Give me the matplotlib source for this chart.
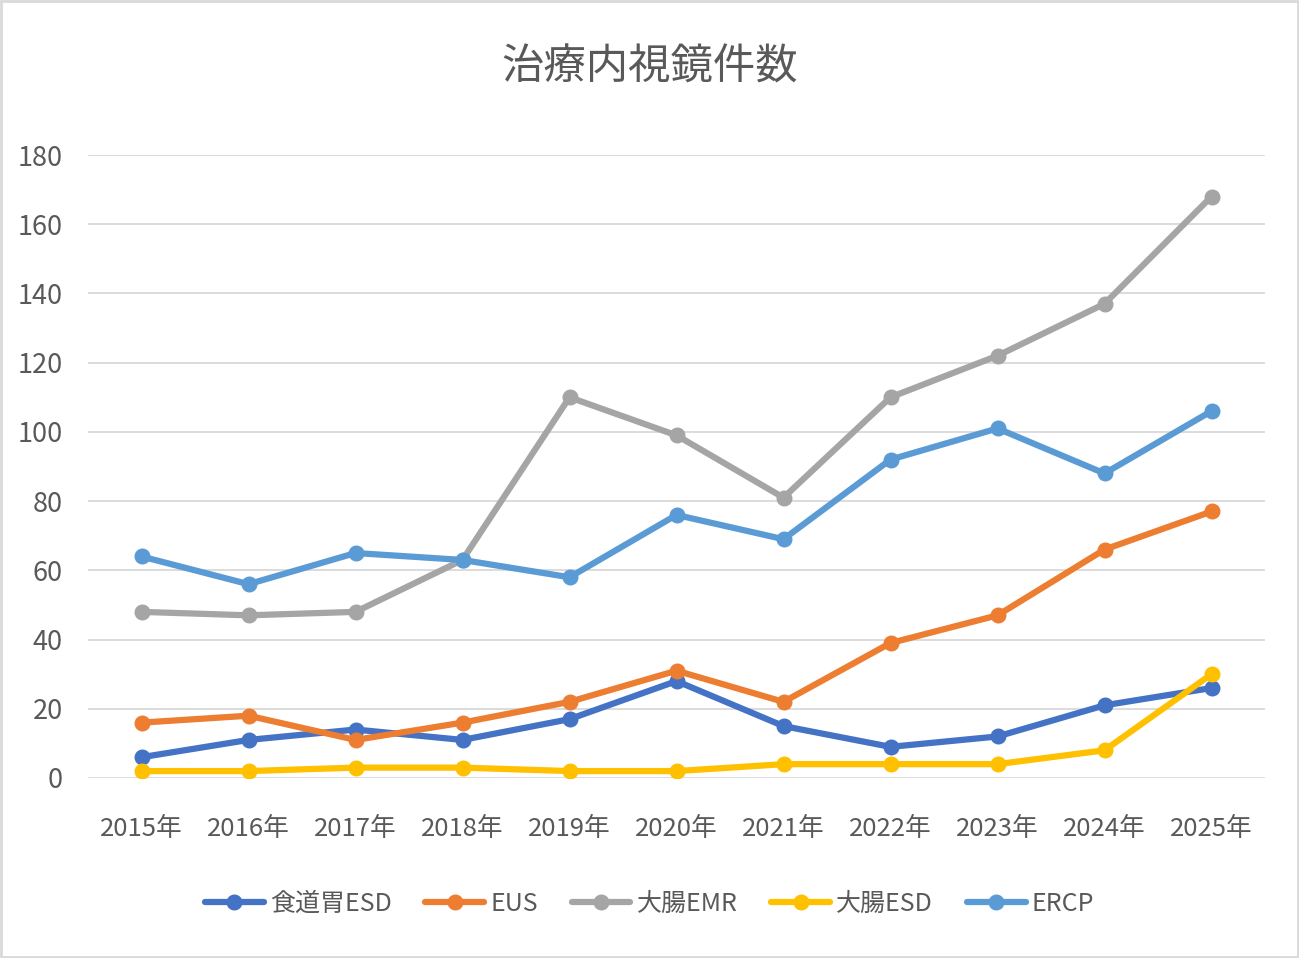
import matplotlib.pyplot as plt

plt.rcParams['font.family'] = ['Noto Sans CJK JP', 'DejaVu Sans']

# data
years = ['2015年', '2016年', '2017年', '2018年', '2019年', '2020年',
         '2021年', '2022年', '2023年', '2024年', '2025年']
esd_upper = [6, 11, 14, 11, 17, 28, 15, 9, 12, 21, 26]
eus = [16, 18, 11, 16, 22, 31, 22, 39, 47, 66, 77]
colon_emr = [48, 47, 48, 63, 110, 99, 81, 110, 122, 137, 168]
colon_esd = [2, 2, 3, 3, 2, 2, 4, 4, 4, 8, 30]
ercp = [64, 56, 65, 63, 58, 76, 69, 92, 101, 88, 106]

series = [
    ('食道胃ESD', esd_upper, '#4472C4'),
    ('EUS', eus, '#ED7D31'),
    ('大腸EMR', colon_emr, '#A5A5A5'),
    ('大腸ESD', colon_esd, '#FFC000'),
    ('ERCP', ercp, '#5B9BD5'),
]

text_color = '#595959'

fig = plt.figure(figsize=(12.99, 9.58), dpi=100)
ax = fig.add_axes([88 / 1299, 1 - 778 / 958, (1265 - 88) / 1299, (778 - 155) / 958])

x = list(range(len(years)))
for name, vals, col in series:
    ax.plot(x, vals, color=col, linewidth=4.5, marker='o', markersize=10.5,
            label=name, solid_capstyle='round', solid_joinstyle='round')

ax.set_xlim(-0.5, len(years) - 0.5)
ax.set_ylim(0, 180)
ax.set_yticks(range(0, 181, 20))
ax.set_xticks(x)
ax.set_xticklabels(years)
ax.grid(axis='y', color='#D9D9D9', linewidth=1.3)
ax.set_axisbelow(True)
for s in ax.spines.values():
    s.set_visible(False)
ax.tick_params(length=0, labelsize=18.5, colors=text_color)
ax.tick_params(axis='x', pad=27)
ax.tick_params(axis='y', pad=18, labelsize=19.5)

fig.text(0.5, 1 - 68 / 958, '治療内視鏡件数', ha='center', va='center',
         fontsize=30.5, color=text_color)

leg = fig.legend(loc='center', bbox_to_anchor=(0.5, 1 - 904 / 958), ncol=5,
                 frameon=False, fontsize=18, handlelength=2.35,
                 handletextpad=0.25, columnspacing=1.35)
for t in leg.get_texts():
    t.set_color(text_color)

# light border around the chart area
fig.patches.append(plt.Rectangle((0.001, 0.001), 0.998, 0.998, transform=fig.transFigure,
                                 fill=False, edgecolor='#D9D9D9', linewidth=2))

fig.savefig('out.png', dpi=100)
